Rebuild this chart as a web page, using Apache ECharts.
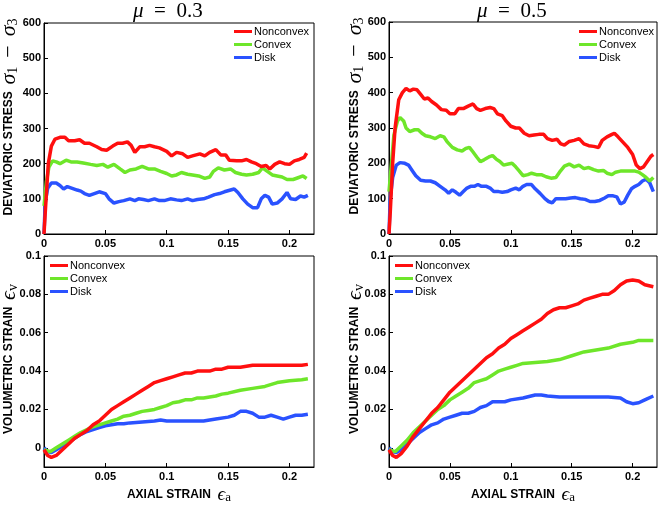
<!DOCTYPE html>
<html><head><meta charset="utf-8">
<script src="https://cdn.jsdelivr.net/npm/echarts@6/dist/echarts.min.js"></script>
<style>html,body{margin:0;padding:0;background:#fff}#c{width:660px;height:505px}</style>
</head><body><div id="c"></div>
<script>
const seriesNames = ['Nonconvex', 'Convex', 'Disk'];
const seriesColors = ['#ff0f0f', '#6ee62a', '#2a52ff'];
const xTicks = [0, 0.05, 0.1, 0.15, 0.2];
const stressTicks = [0, 100, 200, 300, 400, 500, 600];
const strainTicks = [0, 0.02, 0.04, 0.06, 0.08, 0.1];
const panelTitles = ['0.3', '0.5'];

// Deviatoric stress, mu = 0.3
const stress03Nonconvex = [[0,0],[0.001,60],[0.0035,200],[0.006,250],[0.009,270],[0.013,275],[0.017,275],[0.020,265],[0.025,265],[0.029,268],[0.033,258],[0.037,258],[0.043,248],[0.047,240],[0.051,238],[0.056,250],[0.060,258],[0.064,258],[0.068,262],[0.071,252],[0.074,232],[0.078,248],[0.082,248],[0.086,252],[0.090,248],[0.094,245],[0.100,235],[0.104,222],[0.108,232],[0.113,228],[0.117,218],[0.121,222],[0.127,228],[0.131,222],[0.135,232],[0.140,240],[0.144,225],[0.148,225],[0.151,210],[0.157,208],[0.161,208],[0.165,212],[0.169,205],[0.173,200],[0.177,192],[0.181,195],[0.184,185],[0.188,198],[0.192,205],[0.196,200],[0.200,198],[0.204,208],[0.208,212],[0.212,218],[0.214,230]];
const stress03Convex = [[0,80],[0.002,150],[0.004,190],[0.007,208],[0.010,205],[0.013,200],[0.018,210],[0.022,205],[0.027,205],[0.032,202],[0.038,198],[0.043,195],[0.048,198],[0.052,190],[0.057,198],[0.062,185],[0.066,175],[0.070,182],[0.075,185],[0.080,192],[0.085,185],[0.090,185],[0.095,178],[0.100,172],[0.104,165],[0.108,168],[0.112,175],[0.117,170],[0.121,168],[0.126,165],[0.131,158],[0.135,162],[0.138,178],[0.142,188],[0.147,182],[0.152,185],[0.156,175],[0.161,170],[0.165,168],[0.170,170],[0.175,175],[0.178,188],[0.182,178],[0.186,168],[0.190,165],[0.194,162],[0.198,155],[0.203,155],[0.207,160],[0.211,165],[0.214,158]];
const stress03Disk = [[0,0],[0.001,90],[0.003,130],[0.006,145],[0.010,145],[0.013,138],[0.016,128],[0.019,135],[0.023,130],[0.027,125],[0.030,122],[0.033,115],[0.037,110],[0.041,115],[0.045,120],[0.050,115],[0.053,100],[0.057,88],[0.061,92],[0.065,95],[0.070,100],[0.074,95],[0.077,100],[0.081,98],[0.085,95],[0.090,100],[0.094,95],[0.098,95],[0.103,100],[0.108,97],[0.112,95],[0.117,100],[0.121,95],[0.125,98],[0.130,100],[0.134,105],[0.139,112],[0.143,115],[0.147,120],[0.152,125],[0.155,128],[0.158,118],[0.162,100],[0.166,85],[0.170,75],[0.174,75],[0.177,100],[0.180,110],[0.183,105],[0.186,85],[0.190,88],[0.194,100],[0.198,118],[0.201,100],[0.205,98],[0.209,108],[0.212,105],[0.215,110]];

// Deviatoric stress, mu = 0.5
const stress05Nonconvex = [[0,0],[0.001,60],[0.003,200],[0.005,300],[0.008,380],[0.011,400],[0.014,412],[0.017,405],[0.020,410],[0.023,408],[0.026,395],[0.029,382],[0.032,385],[0.035,375],[0.039,365],[0.043,352],[0.047,350],[0.050,340],[0.054,340],[0.057,355],[0.061,355],[0.065,362],[0.069,368],[0.072,355],[0.075,350],[0.079,355],[0.083,358],[0.086,355],[0.089,340],[0.093,335],[0.096,320],[0.100,305],[0.104,300],[0.107,300],[0.111,285],[0.115,278],[0.119,280],[0.123,282],[0.127,282],[0.130,270],[0.134,265],[0.138,268],[0.141,255],[0.144,252],[0.148,262],[0.152,265],[0.156,270],[0.160,255],[0.164,250],[0.168,248],[0.172,245],[0.175,265],[0.179,275],[0.183,282],[0.185,285],[0.188,275],[0.192,260],[0.196,245],[0.200,225],[0.203,195],[0.206,185],[0.209,190],[0.212,205],[0.215,220],[0.217,225]];
const stress05Convex = [[0,120],[0.002,200],[0.004,280],[0.007,320],[0.009,330],[0.012,320],[0.014,300],[0.017,290],[0.021,295],[0.024,295],[0.027,285],[0.030,278],[0.034,275],[0.038,270],[0.042,278],[0.045,275],[0.048,260],[0.052,245],[0.056,238],[0.060,235],[0.063,242],[0.066,245],[0.069,232],[0.072,218],[0.075,205],[0.078,210],[0.082,218],[0.085,222],[0.088,212],[0.091,205],[0.094,195],[0.098,198],[0.101,200],[0.104,190],[0.107,178],[0.110,165],[0.114,168],[0.117,172],[0.121,168],[0.125,168],[0.129,162],[0.133,158],[0.137,160],[0.140,175],[0.144,192],[0.148,198],[0.152,190],[0.156,195],[0.160,185],[0.164,188],[0.168,182],[0.172,178],[0.176,180],[0.179,172],[0.183,168],[0.186,175],[0.190,178],[0.194,178],[0.198,178],[0.202,178],[0.205,175],[0.208,168],[0.211,160],[0.214,150],[0.217,160]];
const stress05Disk = [[0,0],[0.001,100],[0.003,160],[0.006,195],[0.009,202],[0.013,200],[0.016,195],[0.019,180],[0.022,165],[0.026,152],[0.030,150],[0.034,150],[0.038,145],[0.042,135],[0.046,125],[0.049,115],[0.052,125],[0.055,118],[0.058,110],[0.061,120],[0.064,130],[0.067,135],[0.070,135],[0.073,140],[0.076,135],[0.080,135],[0.083,130],[0.086,120],[0.090,120],[0.093,118],[0.097,120],[0.100,125],[0.104,130],[0.107,125],[0.110,135],[0.113,140],[0.117,140],[0.120,128],[0.124,115],[0.128,100],[0.131,92],[0.134,88],[0.137,100],[0.141,100],[0.145,100],[0.149,102],[0.153,103],[0.157,100],[0.161,98],[0.165,92],[0.169,92],[0.173,95],[0.177,102],[0.180,108],[0.184,108],[0.187,105],[0.190,85],[0.193,90],[0.196,110],[0.199,128],[0.202,135],[0.205,140],[0.208,150],[0.211,155],[0.214,145],[0.217,120]];

// Volumetric strain, mu = 0.3
const strain03Nonconvex = [[0,-0.001],[0.003,-0.004],[0.006,-0.005],[0.010,-0.004],[0.015,-0.001],[0.020,0.002],[0.025,0.005],[0.030,0.007],[0.035,0.009],[0.040,0.012],[0.045,0.014],[0.050,0.017],[0.055,0.020],[0.060,0.022],[0.065,0.024],[0.070,0.026],[0.075,0.028],[0.080,0.030],[0.085,0.032],[0.090,0.034],[0.095,0.035],[0.100,0.036],[0.105,0.037],[0.110,0.038],[0.115,0.039],[0.120,0.039],[0.125,0.040],[0.130,0.040],[0.135,0.040],[0.140,0.041],[0.145,0.041],[0.150,0.042],[0.160,0.042],[0.170,0.043],[0.180,0.043],[0.190,0.043],[0.200,0.043],[0.210,0.043],[0.215,0.0435]];
const strain03Convex = [[0,-0.001],[0.005,-0.002],[0.010,0.000],[0.015,0.002],[0.020,0.004],[0.025,0.006],[0.030,0.008],[0.035,0.0095],[0.040,0.011],[0.045,0.012],[0.050,0.013],[0.055,0.014],[0.060,0.015],[0.065,0.0165],[0.070,0.017],[0.075,0.018],[0.080,0.019],[0.085,0.0195],[0.090,0.020],[0.095,0.021],[0.100,0.022],[0.105,0.0235],[0.110,0.024],[0.115,0.025],[0.120,0.025],[0.125,0.026],[0.130,0.026],[0.135,0.0265],[0.140,0.027],[0.145,0.028],[0.150,0.0285],[0.160,0.030],[0.170,0.031],[0.180,0.032],[0.190,0.034],[0.200,0.035],[0.210,0.0355],[0.215,0.036]];
const strain03Disk = [[0,0.000],[0.003,-0.002],[0.006,-0.0025],[0.010,-0.001],[0.015,0.001],[0.020,0.003],[0.025,0.005],[0.030,0.007],[0.035,0.0085],[0.040,0.0095],[0.045,0.0105],[0.050,0.0115],[0.055,0.012],[0.060,0.0125],[0.065,0.0125],[0.070,0.013],[0.080,0.0135],[0.090,0.014],[0.095,0.0145],[0.100,0.014],[0.110,0.014],[0.120,0.014],[0.130,0.014],[0.140,0.015],[0.150,0.016],[0.155,0.017],[0.160,0.019],[0.165,0.019],[0.170,0.018],[0.175,0.016],[0.180,0.016],[0.185,0.017],[0.190,0.016],[0.195,0.015],[0.200,0.016],[0.205,0.017],[0.210,0.017],[0.215,0.0175]];

// Volumetric strain, mu = 0.5
const strain05Nonconvex = [[0,-0.001],[0.003,-0.004],[0.006,-0.005],[0.010,-0.003],[0.015,0.001],[0.020,0.006],[0.025,0.010],[0.030,0.014],[0.035,0.018],[0.040,0.021],[0.045,0.025],[0.050,0.029],[0.055,0.032],[0.060,0.035],[0.065,0.038],[0.070,0.041],[0.075,0.044],[0.080,0.047],[0.085,0.049],[0.090,0.052],[0.095,0.054],[0.100,0.057],[0.105,0.059],[0.110,0.061],[0.115,0.063],[0.120,0.065],[0.125,0.067],[0.130,0.070],[0.135,0.072],[0.140,0.073],[0.145,0.073],[0.150,0.074],[0.155,0.075],[0.160,0.077],[0.165,0.078],[0.170,0.079],[0.175,0.080],[0.180,0.080],[0.185,0.082],[0.190,0.085],[0.195,0.087],[0.200,0.0875],[0.205,0.087],[0.210,0.085],[0.217,0.084]];
const strain05Convex = [[0,-0.001],[0.005,-0.002],[0.010,0.001],[0.015,0.004],[0.020,0.008],[0.025,0.011],[0.030,0.014],[0.035,0.017],[0.040,0.020],[0.045,0.022],[0.050,0.025],[0.055,0.027],[0.060,0.029],[0.065,0.031],[0.070,0.034],[0.075,0.035],[0.080,0.036],[0.085,0.038],[0.090,0.040],[0.095,0.041],[0.100,0.042],[0.105,0.043],[0.110,0.044],[0.120,0.0445],[0.130,0.045],[0.140,0.046],[0.150,0.048],[0.160,0.050],[0.170,0.051],[0.180,0.052],[0.190,0.054],[0.200,0.055],[0.205,0.056],[0.210,0.056],[0.217,0.056]];
const strain05Disk = [[0,0.000],[0.003,-0.002],[0.006,-0.0025],[0.010,-0.001],[0.015,0.002],[0.020,0.005],[0.025,0.008],[0.030,0.010],[0.035,0.012],[0.040,0.013],[0.045,0.015],[0.050,0.016],[0.055,0.017],[0.060,0.018],[0.065,0.018],[0.070,0.019],[0.075,0.021],[0.080,0.022],[0.085,0.024],[0.090,0.024],[0.095,0.024],[0.100,0.025],[0.110,0.026],[0.120,0.0275],[0.125,0.0275],[0.130,0.027],[0.140,0.0265],[0.150,0.0265],[0.160,0.0265],[0.170,0.0265],[0.180,0.0265],[0.190,0.026],[0.195,0.024],[0.200,0.023],[0.205,0.0235],[0.210,0.025],[0.217,0.027]];

const panelData = [
  [stress03Nonconvex, stress03Convex, stress03Disk],
  [stress05Nonconvex, stress05Convex, stress05Disk],
  [strain03Nonconvex, strain03Convex, strain03Disk],
  [strain05Nonconvex, strain05Convex, strain05Disk]
];

const grids = [
  {left: 44, top: 23, width: 270, height: 211},
  {left: 389, top: 22, width: 268, height: 212},
  {left: 44, top: 256, width: 270, height: 212},
  {left: 389, top: 256, width: 268, height: 212}
];

const sansBold = {fontFamily: 'Liberation Sans, Arial, sans-serif', fontWeight: 'bold', color: '#000'};
const axisLineStyle = {show: true, lineStyle: {color: '#000', width: 1}, onZero: false};
const rich = {
  b: {fontSize: 12, fontFamily: 'Liberation Sans, Arial, sans-serif', fontWeight: 'bold', fill: '#000', color: '#000'},
  m: {fontSize: 22, fontFamily: 'Liberation Serif, DejaVu Serif, serif', fontStyle: 'italic', fontWeight: 'normal', fill: '#000', color: '#000'},
  op: {fontSize: 22, fontFamily: 'Liberation Serif, DejaVu Serif, serif', fontWeight: 'normal', fill: '#000', color: '#000', padding: [0, 9, 0, 9]},
  s: {fontSize: 14, fontFamily: 'Liberation Serif, DejaVu Serif, serif', fontWeight: 'normal', fill: '#000', color: '#000', verticalAlign: 'bottom'}
};
const xRich = {
  b: rich.b,
  m: {...rich.m, fontSize: 19},
  s: {...rich.s, fontSize: 13}
};
const stressName = '{b|DEVIATORIC STRESS}  {m|σ}{s|1}{op|−}{m|σ}{s|3}';
const strainName = '{b|VOLUMETRIC STRAIN}  {m|ϵ}{s|v}';
const axialName = '{b|AXIAL STRAIN}  {m|ϵ}{s|a}';

const xAxes = [], yAxes = [], series = [];
grids.forEach((g, i) => {
  const isStress = i < 2;
  const yTicks = isStress ? stressTicks : strainTicks;
  xAxes.push({
    type: 'value', gridIndex: i, min: 0, max: 0.22, position: 'bottom',
    axisLine: axisLineStyle,
    axisTick: {show: true, inside: true, length: 4, customValues: xTicks, lineStyle: {color: '#000'}},
    axisLabel: {show: true, customValues: xTicks, margin: 4, fontSize: 11, ...sansBold},
    splitLine: {show: false},
    name: isStress ? '' : axialName, nameLocation: 'middle', nameGap: 18, nameTextStyle: {rich: xRich}
  });
  yAxes.push({
    type: 'value', gridIndex: i, min: isStress ? 0 : -0.01, max: isStress ? 600 : 0.1, position: 'left',
    axisLine: axisLineStyle,
    axisTick: {show: true, inside: true, length: 4, customValues: yTicks, lineStyle: {color: '#000'}},
    axisLabel: {show: true, customValues: yTicks, margin: 3, fontSize: 11, ...sansBold},
    splitLine: {show: false}
  });
  panelData[i].forEach((d, k) => {
    series.push({
      type: 'line', name: seriesNames[k], xAxisIndex: i, yAxisIndex: i,
      data: d, showSymbol: false, symbol: 'none', smooth: false,
      lineStyle: {color: seriesColors[k], width: 3.5}, itemStyle: {color: seriesColors[k]},
      z: 10 - k, animation: false
    });
  });
});

// rotated y-axis titles
const yTitlePos = [
  {x: 9, y: 117, text: stressName},
  {x: 355, y: 116, text: stressName},
  {x: 9, y: 359, text: strainName},
  {x: 355, y: 359, text: strainName}
];
const graphics = yTitlePos.map(p => ({
  type: 'text', x: p.x, y: p.y, rotation: Math.PI / 2, z: 100,
  style: {text: p.text, rich: rich, align: 'center', verticalAlign: 'middle', fill: '#000'}
}));

const legendPos = [
  {left: 234, top: 25},
  {left: 579, top: 25},
  {left: 50, top: 259},
  {left: 395, top: 259}
];
const legends = legendPos.map(p => ({
  data: seriesNames, orient: 'vertical', left: p.left, top: p.top,
  icon: 'rect', itemWidth: 18, itemHeight: 3, itemGap: 0, selectedMode: false,
  padding: 0,
  textStyle: {fontSize: 11, fontFamily: 'Liberation Sans, Arial, sans-serif', color: '#000', lineHeight: 13, padding: [0, 0, 0, -3]}
}));

const titleRich = {
  i: {fontSize: 21, fontFamily: 'Liberation Serif, DejaVu Serif, serif', fontStyle: 'italic', fontWeight: 'normal', color: '#000'},
  n: {fontSize: 21, fontFamily: 'Liberation Serif, DejaVu Serif, serif', fontWeight: 'normal', color: '#000'}
};
const titles = [
  {text: '{i|μ}{n|  =  ' + panelTitles[0] + '}', left: 133, top: 1},
  {text: '{i|μ}{n|  =  ' + panelTitles[1] + '}', left: 477, top: 1}
].map(t => ({...t, padding: 0, textStyle: {fontWeight: 'normal', rich: titleRich}}));

const chart = echarts.init(document.getElementById('c'), null, {renderer: 'canvas'});
chart.setOption({
  animation: false,
  backgroundColor: '#fff',
  title: titles,
  legend: legends,
  grid: grids.map(g => ({...g, show: true, borderColor: '#000', borderWidth: 1, backgroundColor: 'transparent'})),
  xAxis: xAxes,
  yAxis: yAxes,
  series: series,
  graphic: graphics
});
</script></body></html>
